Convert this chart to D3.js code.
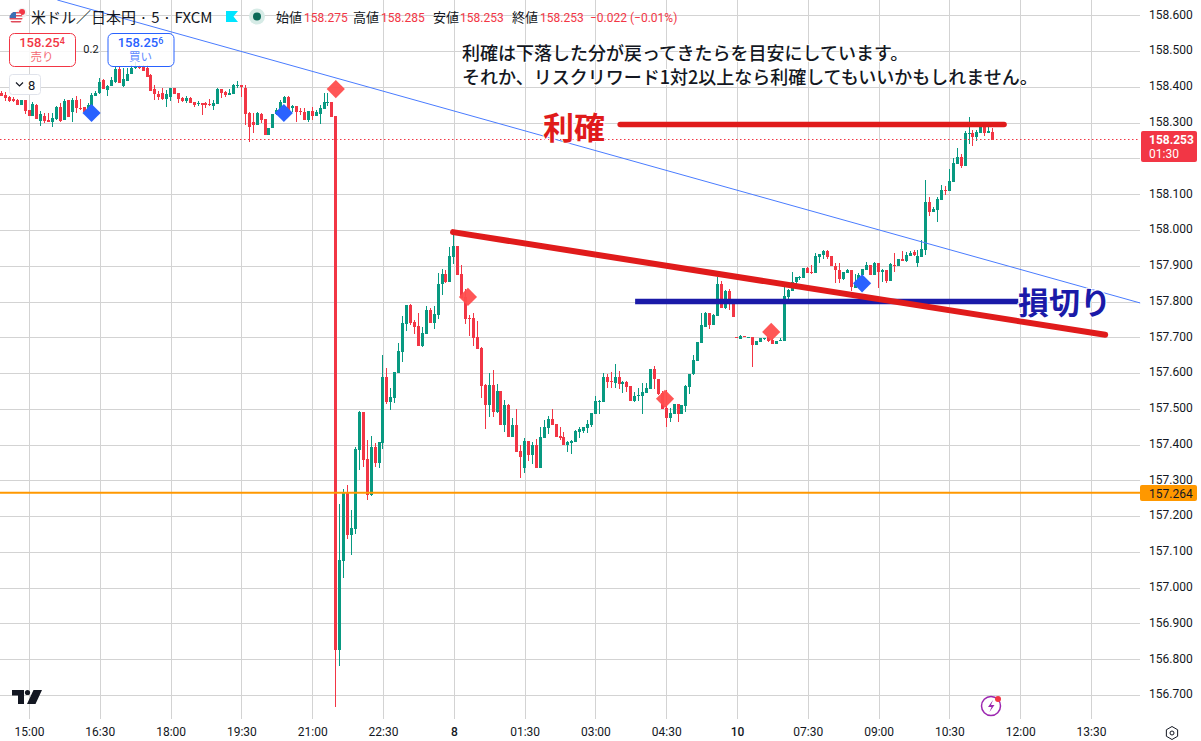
<!DOCTYPE html>
<html>
<head>
<meta charset="utf-8">
<script src="https://cdn.jsdelivr.net/npm/d3@7"></script>
<style>
  html, body { margin: 0; padding: 0; background: #fff; overflow: hidden; }
  text { font-family: Roboto, "Noto Sans CJK JP", sans-serif; }
  .jp { font-family: "Noto Sans CJK JP", sans-serif; }
</style>
</head>
<body>
<svg id="chart" width="1201" height="741"></svg>
<script>
// 5 minute candles, the first one sits 7 bars left of the 15:00 tick
const firstBar = -7

const opens = [
158.383,158.377,158.372,158.366,158.363,158.349,158.363,158.335,158.318,158.349,
158.305,158.318,158.307,158.302,158.310,158.344,158.307,158.363,158.330,158.363,
158.341,158.344,158.327,158.346,158.374,158.383,158.419,158.391,158.402,158.413,
158.450,158.402,158.416,158.436,158.453,158.455,158.455,158.453,158.433,158.394,
158.380,158.383,158.366,158.372,158.397,158.383,158.369,158.360,158.369,158.358,
158.352,158.355,158.355,158.352,158.346,158.352,158.394,158.386,158.377,158.380,
158.402,158.405,158.397,158.327,158.302,158.293,158.324,158.310,158.265,158.285,
158.324,158.335,158.355,158.372,158.341,158.346,158.332,158.330,158.307,158.332,
158.318,158.324,158.338,158.355,158.358,158.318,156.827,157.075,157.266,157.148,
157.165,157.386,157.492,157.360,157.260,157.394,157.349,157.405,157.589,157.520,
157.531,157.601,157.659,157.737,157.791,157.743,157.732,157.676,157.710,157.777,
157.740,157.763,157.849,157.877,157.855,157.925,157.955,157.877,157.813,157.754,
157.754,157.701,157.670,157.567,157.511,157.567,157.492,157.550,157.455,157.511,
157.422,157.455,157.383,157.335,157.411,157.371,157.399,157.335,157.419,157.447,
157.472,157.458,157.425,157.422,157.399,157.405,157.408,157.436,157.438,157.447,
157.455,157.486,157.520,157.520,157.589,157.578,157.573,157.589,157.570,157.575,
157.564,157.522,157.536,157.536,157.545,157.556,157.612,157.584,157.545,157.503,
157.475,157.486,157.514,157.486,157.508,157.561,157.598,157.634,157.684,157.729,
157.768,157.735,157.760,157.849,157.782,157.830,157.807,157.701,157.696,157.704,
157.698,157.701,157.679,157.687,157.696,157.701,157.693,157.682,157.690,157.690,
157.813,157.830,157.855,157.866,157.866,157.894,157.883,157.880,157.925,157.930,
157.941,157.927,157.899,157.888,157.863,157.880,157.888,157.838,157.846,157.874,
157.888,157.902,157.874,157.908,157.883,157.888,157.858,157.902,157.899,157.919,
157.913,157.927,157.939,157.908,157.925,157.944,158.078,158.050,158.056,158.084,
158.112,158.109,158.134,158.184,158.204,158.179,158.268,158.271,158.260,158.271,
158.288,158.271,158.275]

const highs = [
158.388,158.386,158.374,158.372,158.366,158.363,158.363,158.335,158.358,158.352,
158.332,158.327,158.327,158.327,158.346,158.355,158.366,158.363,158.369,158.374,
158.366,158.344,158.355,158.383,158.388,158.425,158.422,158.405,158.427,158.455,
158.455,158.453,158.453,158.461,158.469,158.461,158.461,158.461,158.436,158.405,
158.388,158.397,158.391,158.397,158.397,158.383,158.372,158.374,158.372,158.358,
158.360,158.355,158.358,158.366,158.363,158.397,158.394,158.388,158.394,158.408,
158.416,158.405,158.405,158.330,158.327,158.330,158.327,158.310,158.285,158.324,
158.341,158.363,158.374,158.374,158.349,158.346,158.341,158.341,158.332,158.344,
158.335,158.349,158.383,158.383,158.358,158.318,157.235,157.277,157.288,157.218,
157.394,157.494,157.492,157.413,157.425,157.405,157.408,157.651,157.615,157.559,
157.603,157.684,157.760,157.791,157.793,157.749,157.768,157.729,157.788,157.782,
157.788,157.880,157.891,157.888,157.953,158.000,157.955,157.902,157.835,157.763,
157.768,157.746,157.673,157.570,157.601,157.609,157.570,157.550,157.525,157.514,
157.475,157.500,157.399,157.419,157.411,157.408,157.416,157.450,157.469,157.480,
157.500,157.458,157.450,157.436,157.411,157.413,157.441,157.450,157.450,157.469,
157.489,157.536,157.525,157.601,157.598,157.603,157.626,157.606,157.578,157.578,
157.564,157.548,157.559,157.573,157.573,157.612,157.620,157.584,157.550,157.553,
157.503,157.514,157.514,157.511,157.567,157.598,157.651,157.687,157.768,157.771,
157.768,157.765,157.869,157.858,157.832,157.835,157.807,157.701,157.707,157.704,
157.701,157.701,157.690,157.698,157.698,157.701,157.698,157.690,157.698,157.841,
157.835,157.883,157.869,157.871,157.894,157.897,157.902,157.936,157.933,157.944,
157.944,157.927,157.908,157.908,157.883,157.891,157.888,157.877,157.880,157.891,
157.911,157.902,157.911,157.908,157.891,157.888,157.908,157.936,157.919,157.941,
157.939,157.941,157.944,157.944,157.972,158.140,158.092,158.064,158.092,158.126,
158.123,158.170,158.201,158.229,158.212,158.277,158.316,158.279,158.279,158.299,
158.299,158.288,158.285]

const lows = [
158.374,158.360,158.358,158.358,158.349,158.349,158.324,158.318,158.318,158.310,
158.291,158.299,158.302,158.288,158.307,158.302,158.307,158.316,158.302,158.327,
158.335,158.327,158.321,158.344,158.374,158.380,158.394,158.374,158.402,158.411,
158.411,158.400,158.416,158.436,158.450,158.450,158.444,158.427,158.388,158.363,
158.363,158.363,158.344,158.360,158.380,158.355,158.358,158.355,158.355,158.344,
158.346,158.321,158.341,158.346,158.335,158.352,158.369,158.372,158.377,158.380,
158.397,158.372,158.293,158.246,158.271,158.293,158.299,158.265,158.265,158.285,
158.321,158.335,158.355,158.330,158.330,158.302,158.321,158.307,158.302,158.307,
158.318,158.296,158.338,158.346,158.316,156.667,156.782,157.028,157.137,157.092,
157.151,157.330,157.338,157.246,157.257,157.338,157.335,157.388,157.514,157.497,
157.517,157.601,157.631,157.718,157.735,157.710,157.676,157.673,157.710,157.740,
157.724,157.751,157.818,157.852,157.855,157.905,157.874,157.810,157.737,157.704,
157.676,157.668,157.531,157.444,157.478,157.478,157.489,157.455,157.436,157.422,
157.422,157.380,157.308,157.322,157.355,157.346,157.335,157.335,157.419,157.430,
157.455,157.422,157.413,157.399,157.380,157.374,157.408,157.419,157.433,157.433,
157.450,157.486,157.486,157.520,157.559,157.559,157.559,157.556,157.545,157.548,
157.522,157.520,157.522,157.486,157.545,157.556,157.556,157.539,157.500,157.450,
157.464,157.486,157.464,157.486,157.492,157.542,157.595,157.634,157.684,157.729,
157.724,157.735,157.760,157.782,157.779,157.777,157.757,157.698,157.696,157.701,
157.698,157.617,157.679,157.687,157.693,157.687,157.682,157.682,157.690,157.690,
157.802,157.830,157.846,157.860,157.866,157.880,157.877,157.880,157.908,157.919,
157.919,157.899,157.852,157.852,157.860,157.880,157.830,157.838,157.846,157.874,
157.888,157.874,157.874,157.838,157.855,157.852,157.858,157.883,157.899,157.913,
157.911,157.927,157.927,157.897,157.925,157.930,158.039,158.050,158.022,158.084,
158.098,158.109,158.134,158.184,158.173,158.179,158.240,158.235,158.249,158.271,
158.263,158.271,158.253]

const closes = [
158.374,158.369,158.360,158.360,158.349,158.363,158.332,158.318,158.352,158.310,
158.324,158.305,158.302,158.313,158.344,158.305,158.360,158.316,158.363,158.341,
158.338,158.330,158.349,158.377,158.383,158.413,158.394,158.402,158.419,158.450,
158.411,158.422,158.436,158.453,158.458,158.453,158.444,158.427,158.388,158.380,
158.372,158.366,158.380,158.397,158.380,158.366,158.360,158.369,158.355,158.349,
158.355,158.349,158.349,158.349,158.355,158.394,158.383,158.377,158.383,158.405,
158.405,158.400,158.324,158.288,158.293,158.327,158.307,158.265,158.285,158.324,
158.335,158.358,158.372,158.335,158.346,158.330,158.330,158.307,158.332,158.318,
158.330,158.341,158.358,158.358,158.316,156.827,157.078,157.266,157.148,157.168,
157.388,157.492,157.358,157.260,157.394,157.349,157.408,157.589,157.520,157.534,
157.603,157.662,157.740,157.791,157.740,157.729,157.676,157.712,157.777,157.740,
157.765,157.849,157.877,157.855,157.927,157.955,157.874,157.810,157.751,157.751,
157.698,157.668,157.564,157.511,157.567,157.492,157.550,157.455,157.511,157.422,
157.455,157.380,157.366,157.411,157.371,157.399,157.335,157.422,157.450,157.472,
157.455,157.422,157.419,157.399,157.408,157.411,157.438,157.444,157.450,157.458,
157.489,157.522,157.522,157.589,157.575,157.575,157.589,157.570,157.575,157.561,
157.522,157.536,157.539,157.548,157.559,157.612,157.584,157.542,157.500,157.475,
157.489,157.514,157.486,157.511,157.564,157.598,157.637,157.687,157.735,157.768,
157.735,157.763,157.849,157.782,157.830,157.793,157.757,157.698,157.704,157.701,
157.701,157.679,157.690,157.698,157.698,157.690,157.682,157.690,157.693,157.816,
157.832,157.855,157.869,157.869,157.894,157.880,157.880,157.927,157.933,157.941,
157.925,157.899,157.888,157.863,157.883,157.888,157.841,157.852,157.874,157.891,
157.902,157.874,157.908,157.883,157.888,157.858,157.905,157.899,157.919,157.913,
157.930,157.936,157.930,157.927,157.947,158.078,158.050,158.059,158.087,158.112,
158.109,158.137,158.187,158.204,158.179,158.271,158.271,158.260,158.274,158.288,
158.271,158.277,158.253]

// axes
const priceTicks = [158.6,158.5,158.4,158.3,158.2,158.1,158.0,157.9,157.8,157.7,157.6,157.5,157.4,157.3,157.2,157.1,157.0,156.9,156.8,156.7]
const timeTickBars = [0,18,36,54,72,90,108,126,144,162,180,198,216,234,252,270]
const timeLabels = ['15:00','16:30','18:00','19:30','21:00','22:30','8','01:30','03:00','04:30','10','07:30','09:00','10:30','12:00','13:30']

// levels and drawn lines, [bar, price]
const lastPrice = 158.253
const alertPrice = 157.264
const blueTrend = [[7.2,158.643],[282.5,157.796]]
const redTrend = [[107.8,157.994],[273.6,157.707]]
const takeProfit = [[150.3,158.295],[247.9,158.295]]
const stopLoss = [[154.1,157.800],[251.5,157.800]]

// signal marks, [bar, price]
const buyMarks = [[15.9,158.327],[64.8,158.327],[211.8,157.851]]
const sellMarks = [[78,158.394],[111.6,157.813],[161.7,157.528],[188.7,157.715]]

const green = '#089981'
const red = '#f23645'
const plotRight = 1140
const plotBottom = 719

const svg = d3.select('#chart')
const x = d3.scaleLinear().domain([0,270]).range([29,1091])
const y = d3.scaleLinear().domain([158,156.7]).range([230,695])

// grid
const grid = svg.append('g').attr('shape-rendering','crispEdges')
grid.selectAll('line.h').data(priceTicks).enter().append('line')
  .attr('class','h')
  .attr('x1',0).attr('x2',plotRight)
  .attr('y1',d => Math.round(y(d))+0.5).attr('y2',d => Math.round(y(d))+0.5)
  .attr('stroke','#d3d3d3')
grid.selectAll('line.v').data(timeTickBars).enter().append('line')
  .attr('class','v')
  .attr('y1',0).attr('y2',plotBottom)
  .attr('x1',d => Math.round(x(d))+0.5).attr('x2',d => Math.round(x(d))+0.5)
  .attr('stroke','#d3d3d3')

// candles
const candles = svg.append('g').attr('shape-rendering','crispEdges')
const bars = d3.range(opens.length)
const colorOf = i => closes[i] >= opens[i] ? green : red
const barX = i => Math.floor(x(i + firstBar))

candles.selectAll('line').data(bars).enter().append('line')
  .attr('x1',i => barX(i)+0.5).attr('x2',i => barX(i)+0.5)
  .attr('y1',i => y(highs[i])).attr('y2',i => y(lows[i]))
  .attr('stroke',colorOf)
candles.selectAll('rect').data(bars).enter().append('rect')
  .attr('x',i => barX(i)-1)
  .attr('width',3)
  .attr('y',i => y(Math.max(opens[i],closes[i])))
  .attr('height',i => Math.max(1,Math.abs(y(opens[i])-y(closes[i]))))
  .attr('fill',colorOf)

// last price + alert level
svg.append('line')
  .attr('x1',0).attr('x2',plotRight)
  .attr('y1',y(lastPrice)).attr('y2',y(lastPrice))
  .attr('stroke',red).attr('stroke-dasharray','1.5 2.5').attr('stroke-width',1)
svg.append('line')
  .attr('x1',0).attr('x2',plotRight)
  .attr('y1',y(alertPrice)-0.5).attr('y2',y(alertPrice)-0.5)
  .attr('stroke','#ff9800').attr('stroke-width',2)

// drawn lines
const lineGen = d3.line().x(d => x(d[0])).y(d => y(d[1]))
const addLine = (pts,color,w) => svg.append('path')
  .attr('d',lineGen(pts)).attr('fill','none')
  .attr('stroke',color).attr('stroke-width',w).attr('stroke-linecap','round')

addLine(blueTrend,'#4a7cff',1).attr('stroke-linecap','butt')
addLine(stopLoss,'#1a1aa8',5.5).attr('stroke-linecap','butt')
addLine(redTrend,'#e01b1b',6)
addLine(takeProfit,'#e01b1b',5.5)

// diamonds
const addMarks = (data,color,op) => svg.selectAll(null).data(data).enter().append('path')
  .attr('d',d3.symbol().type(d3.symbolSquare).size(165))
  .attr('transform',d => `translate(${x(d[0])},${y(d[1])}) rotate(45)`)
  .attr('fill',color).attr('opacity',op)
addMarks(buyMarks,'#2962ff',1)
addMarks(sellMarks,'#ff4d4d',0.95)

// price axis
const yAxis = d3.axisRight(y).tickValues(priceTicks).tickFormat(d3.format('.3f')).tickSize(0).tickPadding(9)
const yG = svg.append('g').attr('transform',`translate(${plotRight},-1)`).call(yAxis)
yG.select('.domain').remove()
yG.selectAll('text').attr('font-size',12).attr('fill','#131722')
  .style('font-family','Roboto, sans-serif')
// 158.200 sits behind the last price tag
yG.selectAll('.tick').filter(d => d === 158.2).select('text').remove()

// time axis
const xAxis = d3.axisBottom(x).tickValues(timeTickBars).tickFormat((d,i) => timeLabels[i]).tickSize(0).tickPadding(8)
const xG = svg.append('g').attr('transform',`translate(0,${plotBottom})`).call(xAxis)
xG.select('.domain').remove()
xG.selectAll('text').attr('font-size',12).attr('fill','#131722')
  .attr('font-weight',(d,i) => timeLabels[i].length < 3 ? 500 : 400)
  .style('font-family','Roboto, sans-serif')

// price tags on the axis
svg.append('rect').attr('x',1141).attr('y',131).attr('width',56).attr('height',31).attr('rx',2).attr('fill',red)
svg.append('text').attr('x',1149).attr('y',144).attr('font-size',12).attr('font-weight',700).attr('fill','#fff').text(d3.format('.3f')(lastPrice))
svg.append('text').attr('x',1149).attr('y',158).attr('font-size',12).attr('fill','#fff').text('01:30')
svg.append('rect').attr('x',1140).attr('y',485).attr('width',57).attr('height',16).attr('rx',2).attr('fill','#ff9800')
svg.append('text').attr('x',1149).attr('y',497.5).attr('font-size',12).attr('fill','#131722').text(d3.format('.3f')(alertPrice))

// annotation text
const jpText = (tx,ty,str,size,color,weight) => svg.append('text')
  .attr('class','jp').attr('x',tx).attr('y',ty)
  .attr('font-size',size).attr('font-weight',weight).attr('fill',color)
  .attr('stroke','#fff').attr('stroke-width',2).attr('paint-order','stroke')
  .text(str)
jpText(462,60,'利確は下落した分が戻ってきたらを目安にしています。',18,'#131722',500)
jpText(462,84,'それか、リスクリワード1対2以上なら利確してもいいかもしれません。',18,'#131722',500)
jpText(543,139,'利確',31,'#e01b1b',700)
jpText(1018,314,'損切り',31,'#1a1aa8',700)

// header row
svg.append('clipPath').attr('id','flagClip').append('circle').attr('cx',16).attr('cy',18).attr('r',6.5)
const flag = svg.append('g')
flag.append('circle').attr('cx',22).attr('cy',13).attr('r',5).attr('fill','#f0f0f0')
flag.append('circle').attr('cx',22).attr('cy',12).attr('r',3).attr('fill','#f23645')
const flagFront = flag.append('g').attr('clip-path','url(#flagClip)')
flagFront.append('circle').attr('cx',16).attr('cy',18).attr('r',6.5).attr('fill','#fff')
const stripes = [12,15,18,21]
flagFront.selectAll('rect').data(stripes).enter().append('rect')
  .attr('x',9).attr('y',d => d).attr('width',14).attr('height',1.5).attr('fill','#e04a5a')
flagFront.append('rect').attr('x',9).attr('y',12).attr('width',7).attr('height',6).attr('fill','#3c6fb4')

svg.append('text').attr('class','jp').attr('x',31).attr('y',22.5).attr('font-size',15).attr('fill','#131722').text('米ドル／日本円 · 5 · FXCM')
svg.append('path').attr('d','M226 11H238L233.5 16.5L238 22H226Z').attr('fill','#00e5ff')
svg.append('circle').attr('cx',257).attr('cy',16.5).attr('r',8).attr('fill','#d6ebe6')
svg.append('circle').attr('cx',257).attr('cy',16.5).attr('r',4).attr('fill','#0b6a58')

const ohlcLabels = [[276,'始値',304,'158.275'],[353,'高値',381,'158.285'],[433,'安値',460,'158.253'],[512,'終値',540,'158.253']]
ohlcLabels.forEach(d => {
  svg.append('text').attr('class','jp').attr('x',d[0]).attr('y',21.5).attr('font-size',13).attr('fill','#131722').text(d[1])
  svg.append('text').attr('x',d[2]).attr('y',21.5).attr('font-size',12).attr('fill',red).text(d[3])
})
svg.append('text').attr('x',590).attr('y',21.5).attr('font-size',12).attr('fill',red).text('−0.022 (−0.01%)')

// buy / sell buttons
const button = (bx,color,main,sup,label) => {
  svg.append('rect').attr('x',bx+0.5).attr('y',33.5).attr('width',66).attr('height',33).attr('rx',5)
    .attr('fill','#fff').attr('fill-opacity',0.85).attr('stroke',color)
  const t = svg.append('text').attr('x',bx+33).attr('y',47).attr('text-anchor','middle').attr('font-size',13).attr('font-weight',500).attr('fill',color)
  t.append('tspan').text(main)
  t.append('tspan').attr('font-size',9).attr('dy',-3).text(sup)
  svg.append('text').attr('class','jp').attr('x',bx+33).attr('y',61).attr('text-anchor','middle').attr('font-size',11.5).attr('fill',color).attr('opacity',0.75).text(label)
}
button(9,red,'158.25','4','売り')
button(107.5,'#2962ff','158.25','6','買い')
svg.append('text').attr('x',91).attr('y',53).attr('text-anchor','middle').attr('font-size',11).attr('fill','#131722').text('0.2')

// indicator collapse button
svg.append('rect').attr('x',9.5).attr('y',74.5).attr('width',31).attr('height',20).attr('rx',3).attr('fill','#fff').attr('stroke','#e0e3eb')
svg.append('path').attr('d','M16 82.5L19.5 86L23 82.5').attr('fill','none').attr('stroke','#131722').attr('stroke-width',1.2)
svg.append('text').attr('x',28).attr('y',89.5).attr('font-size',13).attr('fill','#131722').text('8')

// TradingView logo
svg.append('path').attr('d','M12 690H24V704H18V695.5H12Z M33.5 690H42L35.5 704H27Z').attr('fill','#131722')
svg.append('circle').attr('cx',27.5).attr('cy',692.5).attr('r',2.6).attr('fill','#131722')

// bolt icon
svg.append('circle').attr('cx',991).attr('cy',706).attr('r',9.5).attr('fill','#fff').attr('stroke','#9c27b0').attr('stroke-width',1.5)
svg.append('path').attr('d','M993 700L988 707H991.5L989.5 712L994.5 705H991Z').attr('fill','#9c27b0')
svg.append('circle').attr('cx',998).attr('cy',699).attr('r',3).attr('fill',red)

// settings icon
svg.append('path').attr('d',d3.line()(d3.range(7).map(k => [1172+6.5*Math.sin(k*Math.PI/3),733+6.5*Math.cos(k*Math.PI/3)])))
  .attr('fill','none').attr('stroke','#131722')
svg.append('circle').attr('cx',1172).attr('cy',733).attr('r',2).attr('fill','none').attr('stroke','#131722')
</script>
</body>
</html>
